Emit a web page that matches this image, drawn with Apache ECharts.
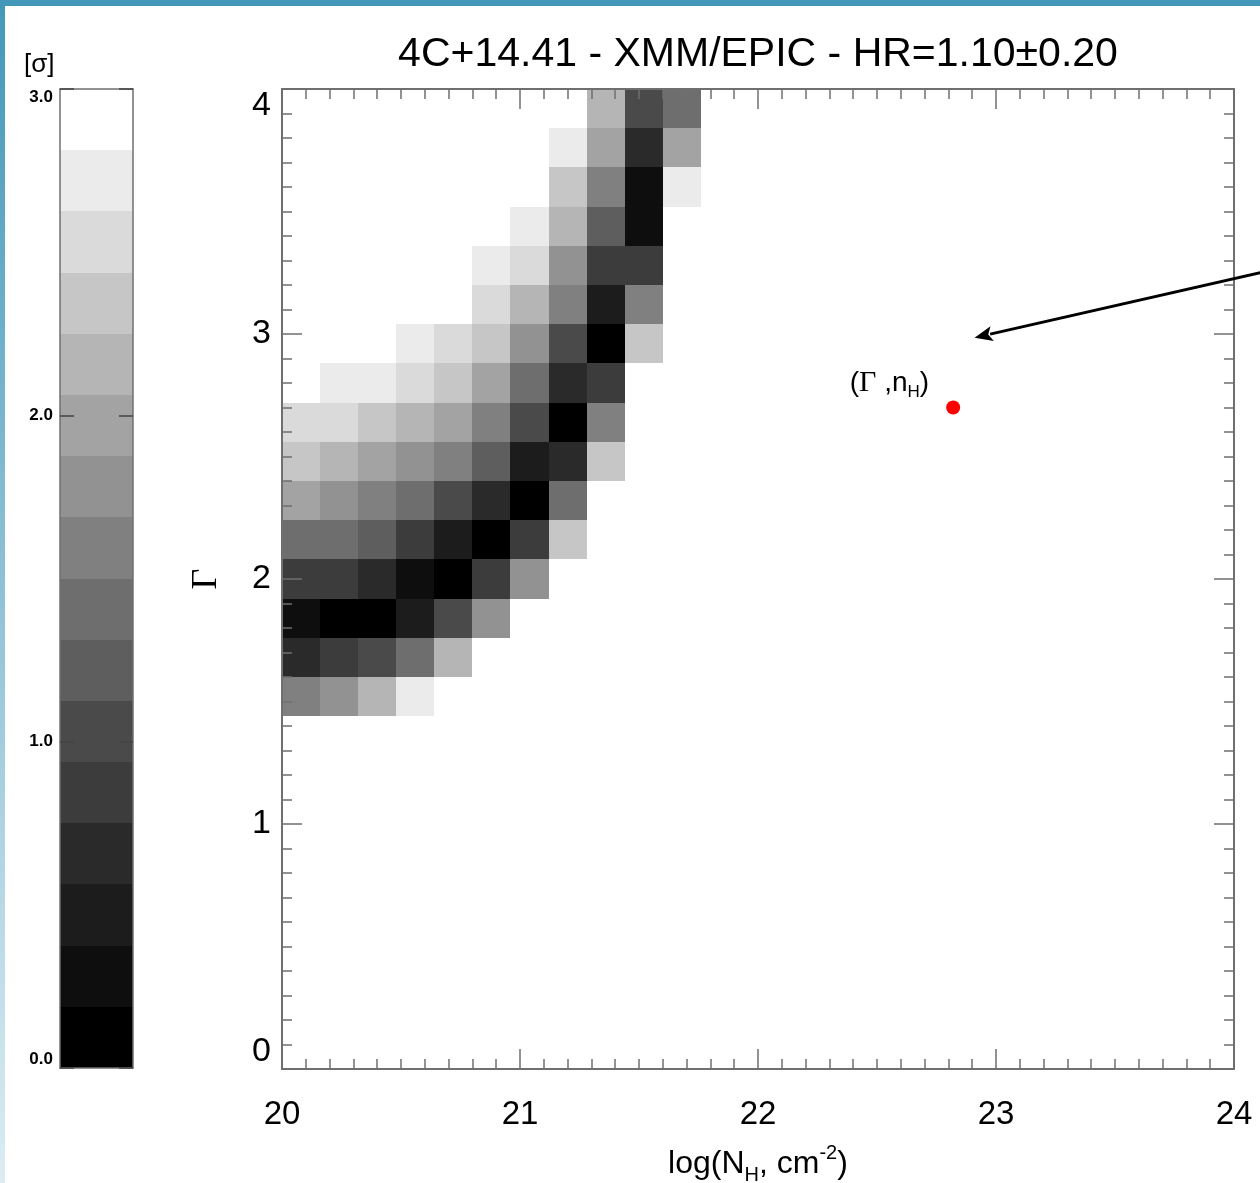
<!DOCTYPE html>
<html><head><meta charset="utf-8">
<script src="https://cdn.jsdelivr.net/npm/echarts@6/dist/echarts.min.js"></script>
<style>html,body{margin:0;padding:0;background:#fff}#c{width:1260px;height:1183px}</style>
</head><body><div id="c"></div>
<script>
// ---------------- data ----------------
const titleText = '4C+14.41 - XMM/EPIC - HR=1.10±0.20';
const colorbarUnit = '[σ]';
const binWidth = 0.16;                       // bin size in log(NH) and in Gamma
const nhBins = [20.00, 20.16, 20.32, 20.48, 20.64, 20.80, 20.96, 21.12, 21.28, 21.44, 21.60];
const rowGamma = [3.84, 3.68, 3.52, 3.36, 3.20, 3.04, 2.88, 2.72, 2.56, 2.40, 2.24, 2.08, 1.92, 1.76, 1.60, 1.44];
const rowStartBin = [8, 7, 7, 6, 5, 5, 3, 1, 0, 0, 0, 0, 0, 0, 0, 0];
const rowSigma = [
  [2.16, 1.03, 1.41],
  [2.72, 1.97, 0.66, 1.97],
  [2.34, 1.59, 0.28, 2.72],
  [2.72, 2.16, 1.22, 0.28],
  [2.72, 2.53, 1.78, 0.84, 0.84],
  [2.53, 2.16, 1.59, 0.47, 1.59],
  [2.72, 2.53, 2.34, 1.78, 1.03, 0.09, 2.34],
  [2.72, 2.72, 2.53, 2.34, 1.97, 1.41, 0.66, 0.84],
  [2.53, 2.53, 2.34, 2.16, 1.97, 1.59, 1.03, 0.09, 1.59],
  [2.34, 2.16, 1.97, 1.78, 1.59, 1.22, 0.47, 0.66, 2.34],
  [1.97, 1.78, 1.59, 1.41, 1.03, 0.66, 0.09, 1.41],
  [1.41, 1.41, 1.22, 0.84, 0.47, 0.09, 0.84, 2.34],
  [0.84, 0.84, 0.66, 0.28, 0.09, 0.84, 1.78],
  [0.28, 0.09, 0.09, 0.47, 1.03, 1.78],
  [0.66, 0.84, 1.03, 1.41, 2.16],
  [1.59, 1.78, 2.16, 2.72]
];
const sigmaEdges = [0.0, 0.1875, 0.375, 0.5625, 0.75, 0.9375, 1.125, 1.3125, 1.5, 1.6875, 1.875, 2.0625, 2.25, 2.4375, 2.625, 2.8125, 3.0];
const grayLevels = ['#000000', '#0e0e0e', '#1c1c1c', '#2a2a2a', '#3c3c3c', '#4a4a4a', '#5e5e5e', '#6e6e6e',
                    '#808080', '#929292', '#a3a3a3', '#b5b5b5', '#c6c6c6', '#dadada', '#ebebeb', '#ffffff'];
const colorbarTickLabels = ['0.0', '1.0', '2.0', '3.0'];
const bestFit = [22.82, 2.70];
const bestFitLabel = '{p|(}{g|Γ}{p| ,n}{s|H}{p|)}';
const arrowLine = [24.11, 3.25, 22.91, 2.985];

// ---------------- build ----------------
const cells = [];
rowSigma.forEach((vals, r) => {
  vals.forEach((s, k) => cells.push([nhBins[rowStartBin[r] + k], rowGamma[r], s]));
});
const bands = [];
for (let i = 0; i < grayLevels.length; i++) bands.push([sigmaEdges[i], sigmaEdges[i + 1], i]);

function colorFor(s) {
  for (let i = 0; i < grayLevels.length; i++) if (s < sigmaEdges[i + 1]) return grayLevels[i];
  return grayLevels[grayLevels.length - 1];
}

const FONT = 'Liberation Sans';
const AX = '#6f6f6f';

const chart = echarts.init(document.getElementById('c'), null, {renderer: 'canvas'});
const mainXAxis = (pos, labels) => ({
  type: 'value', gridIndex: 0, position: pos, min: 20, max: 24, interval: 1,
  axisLine: {show: true, onZero: false, lineStyle: {color: AX, width: 2}},
  axisTick: {show: true, inside: true, length: 20, lineStyle: {color: AX, width: 1.5}},
  minorTick: {show: true, splitNumber: 10, length: 10, lineStyle: {color: AX, width: 1.5}},
  splitLine: {show: false},
  axisLabel: {show: labels, margin: 29, fontSize: 33, fontFamily: FONT, color: '#000'}
});
const mainYAxis = (pos, labels) => ({
  type: 'value', gridIndex: 0, position: pos, min: 0, max: 4, interval: 1,
  axisLine: {show: true, onZero: false, lineStyle: {color: AX, width: 2}},
  axisTick: {show: true, inside: true, length: 20, lineStyle: {color: AX, width: 1.5}},
  minorTick: {show: true, splitNumber: 10, length: 10, lineStyle: {color: AX, width: 1.5}},
  splitLine: {show: false},
  axisLabel: {show: labels, margin: 11, fontSize: 34, fontFamily: FONT, color: '#000',
              verticalAlignMaxLabel: 'top', verticalAlignMinLabel: 'bottom'}
});

const option = {
  animation: false,
  backgroundColor: '#ffffff',
  title: [
    {text: titleText, left: 753, top: 29, textAlign: 'center',
     textStyle: {fontSize: 41, fontWeight: 'normal', fontFamily: FONT, color: '#000'}},
    {text: colorbarUnit, left: 19, top: 47,
     textStyle: {fontSize: 26, fontWeight: 'normal', fontFamily: FONT, color: '#000'}}
  ],
  graphic: [
    {type: 'rect', left: 0, top: 0, z: 100, shape: {width: 1260, height: 6}, style: {fill: '#4398ba'}},
    {type: 'rect', left: 0, top: 0, z: 100, shape: {width: 5, height: 1183},
     style: {fill: new echarts.graphic.LinearGradient(0, 0, 0, 1, [
       {offset: 0, color: '#4398ba'}, {offset: 1, color: '#dcecf3'}])}}
  ],
  grid: [
    {left: 282, top: 89, width: 952, height: 980, containLabel: false, outerBoundsMode: 'none'},
    {left: 60, top: 89, width: 73, height: 979, containLabel: false, outerBoundsMode: 'none'}
  ],
  xAxis: [
    Object.assign(mainXAxis('bottom', true), {
      name: 'log(N{s|H}, cm{u|-2})', nameLocation: 'middle', nameGap: 74,
      nameTextStyle: {fontSize: 32, fontFamily: FONT, color: '#000', lineHeight: 42,
        rich: {s: {fontSize: 20, fontFamily: FONT, verticalAlign: 'bottom', lineHeight: 16},
               u: {fontSize: 20, fontFamily: FONT, verticalAlign: 'top', lineHeight: 16}}}
    }),
    mainXAxis('top', false),
    {type: 'value', gridIndex: 1, position: 'bottom', min: 0, max: 1,
     axisLine: {show: true, onZero: false, lineStyle: {color: AX, width: 1.5}},
     axisTick: {show: false}, axisLabel: {show: false}, splitLine: {show: false}},
    {type: 'value', gridIndex: 1, position: 'top', min: 0, max: 1,
     axisLine: {show: true, onZero: false, lineStyle: {color: AX, width: 1.5}},
     axisTick: {show: false}, axisLabel: {show: false}, splitLine: {show: false}}
  ],
  yAxis: [
    Object.assign(mainYAxis('left', true), {
      name: 'Γ', nameLocation: 'middle', nameGap: 57, nameRotate: 90,
      nameTextStyle: {fontSize: 36, fontFamily: 'Liberation Serif', color: '#000'}
    }),
    mainYAxis('right', false),
    {type: 'value', gridIndex: 1, position: 'left', min: 0, max: 3, interval: 1,
     axisLine: {show: true, onZero: false, lineStyle: {color: AX, width: 1.5}},
     axisTick: {show: true, inside: true, length: 14, lineStyle: {color: '#444', width: 1.5}},
     splitLine: {show: false},
     axisLabel: {margin: 7, fontSize: 17, fontWeight: 'bold', fontFamily: FONT, color: '#000',
       verticalAlignMaxLabel: 'top', verticalAlignMinLabel: 'bottom',
       formatter: v => colorbarTickLabels[Math.round(v)]}},
    {type: 'value', gridIndex: 1, position: 'right', min: 0, max: 3, interval: 1,
     axisLine: {show: true, onZero: false, lineStyle: {color: AX, width: 1.5}},
     axisTick: {show: true, inside: true, length: 14, lineStyle: {color: '#444', width: 1.5}},
     splitLine: {show: false}, axisLabel: {show: false}}
  ],
  series: [
    {
      type: 'custom', name: 'sigma', xAxisIndex: 0, yAxisIndex: 0, z: -1, silent: true,
      encode: {x: 0, y: 1},
      data: cells,
      renderItem: (params, api) => {
        const x0 = api.value(0), y0 = api.value(1);
        const p0 = api.coord([x0, y0 + binWidth]);
        const p1 = api.coord([x0 + binWidth, y0]);
        const X0 = Math.round(p0[0]), Y0 = Math.round(p0[1]);
        const X1 = Math.round(p1[0]), Y1 = Math.round(p1[1]);
        return {type: 'rect', shape: {x: X0, y: Y0, width: X1 - X0, height: Y1 - Y0},
                style: {fill: colorFor(api.value(2))}};
      }
    },
    {
      type: 'custom', name: 'colorbar', xAxisIndex: 2, yAxisIndex: 2, z: -1, silent: true,
      encode: {y: [0, 1]},
      data: bands,
      renderItem: (params, api) => {
        const p0 = api.coord([0, api.value(1)]);
        const p1 = api.coord([1, api.value(0)]);
        const X0 = Math.round(p0[0]), Y0 = Math.round(p0[1]);
        const X1 = Math.round(p1[0]), Y1 = Math.round(p1[1]);
        return {type: 'rect', shape: {x: X0, y: Y0, width: X1 - X0, height: Y1 - Y0},
                style: {fill: grayLevels[api.value(2)]}};
      }
    },
    {
      type: 'custom', name: 'arrow', xAxisIndex: 0, yAxisIndex: 0, clip: false, silent: true, z: 5,
      encode: {x: [0, 2], y: [1, 3]},
      data: [arrowLine],
      renderItem: (params, api) => {
        const a = api.coord([api.value(0), api.value(1)]);
        const b = api.coord([api.value(2), api.value(3)]);
        const dx = b[0] - a[0], dy = b[1] - a[1], L = Math.hypot(dx, dy);
        const ux = dx / L, uy = dy / L, nx = -uy, ny = ux;
        const head = 18, hw = 7.5;
        const base = [b[0] - ux * head, b[1] - uy * head];
        return {type: 'group', children: [
          {type: 'line', shape: {x1: a[0], y1: a[1], x2: base[0] + ux * 2, y2: base[1] + uy * 2},
           style: {stroke: '#000', lineWidth: 3}},
          {type: 'polygon', shape: {points: [b, [base[0] + nx * hw, base[1] + ny * hw],
                                             [base[0] + ux * 4, base[1] + uy * 4],
                                             [base[0] - nx * hw, base[1] - ny * hw]]},
           style: {fill: '#000'}}
        ]};
      }
    },
    {
      type: 'scatter', name: 'best fit', xAxisIndex: 0, yAxisIndex: 0, clip: false, z: 6, silent: true,
      symbol: 'circle', symbolSize: 14,
      itemStyle: {color: '#ff0000', opacity: 1},
      data: [bestFit],
      label: {
        show: true, position: 'left', distance: 5, offset: [-12, -24], opacity: 1,
        formatter: bestFitLabel,
        rich: {
          p: {fontSize: 28, fontFamily: FONT, color: '#000', lineHeight: 34},
          g: {fontSize: 30, fontFamily: 'Liberation Serif', color: '#000', lineHeight: 34},
          s: {fontSize: 17, fontFamily: FONT, color: '#000', verticalAlign: 'bottom', lineHeight: 16}
        }
      }
    }
  ]
};
chart.setOption(option);
</script>
</body></html>
